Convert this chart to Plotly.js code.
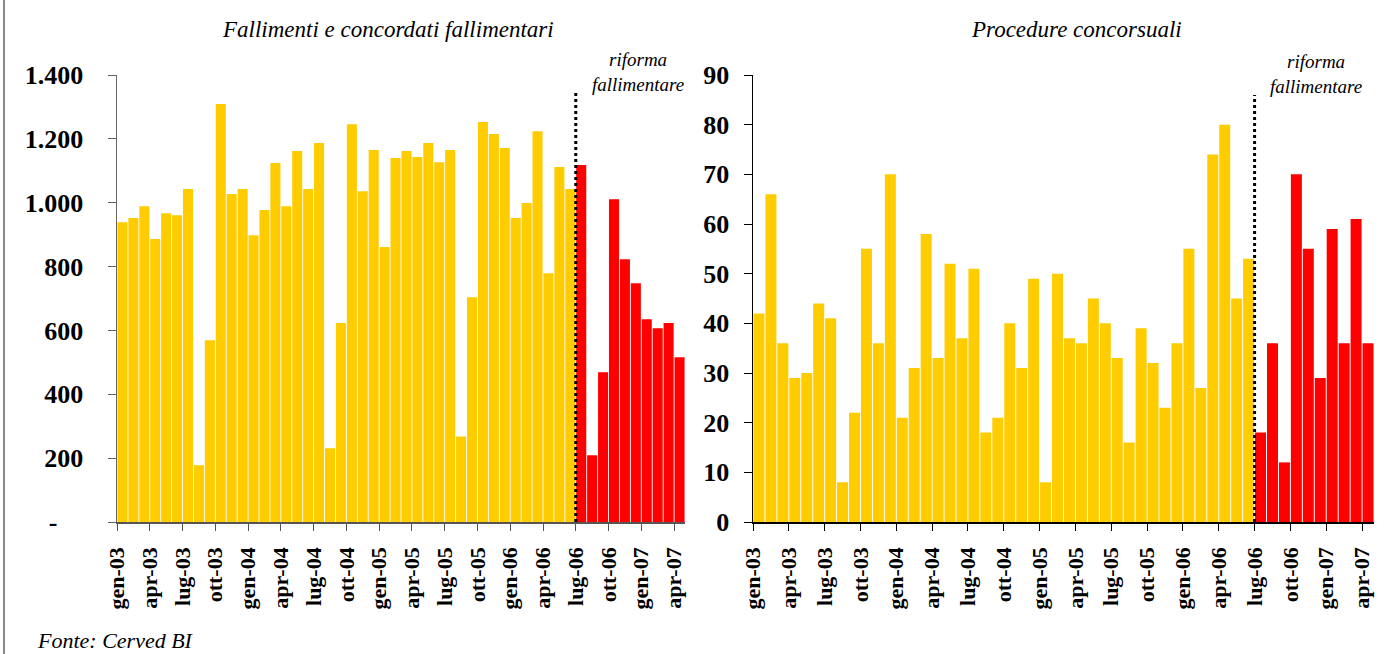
<!DOCTYPE html>
<html>
<head>
<meta charset="utf-8">
<script src="https://cdn.plot.ly/plotly-3.0.1.min.js"></script>
<style>
  html, body { margin: 0; padding: 0; background: #fff; }
  #grafico { width: 1386px; height: 654px; }
</style>
</head>
<body>
<div id="grafico"></div>
<script>
/* global Plotly */

// mesi da gen-03 a apr-07
var mesi = ["gen-03","feb-03","mar-03","apr-03","mag-03","giu-03","lug-03","ago-03","set-03","ott-03","nov-03","dic-03",
            "gen-04","feb-04","mar-04","apr-04","mag-04","giu-04","lug-04","ago-04","set-04","ott-04","nov-04","dic-04",
            "gen-05","feb-05","mar-05","apr-05","mag-05","giu-05","lug-05","ago-05","set-05","ott-05","nov-05","dic-05",
            "gen-06","feb-06","mar-06","apr-06","mag-06","giu-06","lug-06","ago-06","set-06","ott-06","nov-06","dic-06",
            "gen-07","feb-07","mar-07","apr-07"];

// indice del primo mese dopo la riforma (lug-06)
var riforma = 42;

var fallimenti = [939, 952, 989, 886, 967, 961, 1043, 178, 569, 1309, 1027, 1043,
                  898, 977, 1124, 989, 1162, 1043, 1187, 231, 623, 1246, 1036, 1165,
                  861, 1140, 1162, 1143, 1187, 1127, 1165, 268, 704, 1253, 1215, 1171,
                  952, 999, 1224, 779, 1112, 1043, 1118, 209, 469, 1011, 823, 748,
                  635, 607, 623, 516];

var procedure = [42, 66, 36, 29, 30, 44, 41, 8, 22, 55, 36, 70,
                 21, 31, 58, 33, 52, 37, 51, 18, 21, 40, 31, 49,
                 8, 50, 37, 36, 45, 40, 33, 16, 39, 32, 23, 36,
                 55, 27, 74, 80, 45, 53, 18, 36, 12, 70, 55, 29,
                 59, 36, 61, 36];

var tickFall = [0, 200, 400, 600, 800, 1000, 1200, 1400];
var tickProc = [0, 10, 20, 30, 40, 50, 60, 70, 80, 90];

// formato contabile: migliaia col punto, zero come trattino
function formattaFall(v) {
    if (v === 0) return "-\u00a0\u00a0\u00a0\u00a0";
    return String(v).replace(/\B(?=(\d{3})+(?!\d))/g, ".");
}
function formattaProc(v) {
    return String(v);
}

var posizioni = [];
var colori = [];
var tickX = [];
var tickXtesto = [];
for (var i = 0; i < mesi.length; i++) {
    posizioni[i] = i + 0.5;
    colori[i] = i < riforma ? "#FFCC00" : "#FF0000";
    if (i % 3 === 0) {
        tickX.push(i);
        tickXtesto.push(mesi[i]);
    }
}

var W = 1386, H = 654;
function px(x) { return x / W; }
function py(y) { return 1 - y / H; }

var serif = "Liberation Serif, Times New Roman, serif";
var fontAsse = {family: serif, size: 26, color: "#000", weight: "bold"};
var fontMesi = {family: serif, size: 22, color: "#000", weight: "bold"};
var fontTitolo = {family: serif, size: 23, color: "#000", style: "italic"};
var fontFonte = {family: serif, size: 22, color: "#000", style: "italic"};
var fontNota = {family: serif, size: 19, color: "#000", style: "italic"};

var dati = [{
    x: posizioni,
    y: fallimenti,
    type: "bar",
    marker: {color: colori, line: {width: 0}},
    hoverinfo: "skip",
    xaxis: "x",
    yaxis: "y"
}, {
    x: posizioni,
    y: procedure,
    type: "bar",
    marker: {color: colori, line: {width: 0}},
    hoverinfo: "skip",
    xaxis: "x2",
    yaxis: "y2"
}];

function assex(dominio, colore, ancora) {
    return {
        domain: dominio,
        anchor: ancora,
        range: [0, mesi.length],
        tickmode: "array",
        tickvals: tickX,
        ticktext: tickXtesto,
        tickangle: -90,
        ticks: "outside",
        ticklen: 7,
        tickcolor: colore,
        ticklabelstandoff: 8,
        showline: true,
        linecolor: colore,
        linewidth: 1.5,
        showgrid: false,
        zeroline: false,
        tickfont: fontMesi,
        fixedrange: true
    };
}

function assey(dominio, range, valori, testi, colore, standoff, ancora) {
    return {
        domain: dominio,
        anchor: ancora,
        range: range,
        tickmode: "array",
        tickvals: valori,
        ticktext: testi,
        ticks: "outside",
        ticklen: 8,
        tickcolor: colore,
        ticklabelstandoff: standoff,
        showline: true,
        linecolor: colore,
        linewidth: 1.5,
        showgrid: false,
        zeroline: false,
        tickfont: fontAsse,
        fixedrange: true
    };
}

var estilo = {
    width: W,
    height: H,
    margin: {l: 0, r: 0, t: 0, b: 0},
    paper_bgcolor: "#fff",
    plot_bgcolor: "#fff",
    showlegend: false,
    bargap: 0.08,
    xaxis: assex([px(117), px(685)], "#555", "y"),
    yaxis: assey([py(522), py(75)], [0, 1400], tickFall, tickFall.map(formattaFall), "#666", 19, "x"),
    xaxis2: assex([px(753), px(1374)], "#000", "y2"),
    yaxis2: assey([py(522), py(75)], [0, 90], tickProc, tickProc.map(formattaProc), "#000", 9, "x2"),
    shapes: [{
        type: "line", xref: "x", yref: "paper",
        x0: riforma, x1: riforma, y0: py(522), y1: py(93),
        line: {color: "#000", width: 3, dash: "dot"}
    }, {
        type: "line", xref: "x2", yref: "paper",
        x0: riforma, x1: riforma, y0: py(522), y1: py(95),
        line: {color: "#000", width: 3, dash: "dot"}
    }, {
        type: "line", xref: "paper", yref: "paper",
        x0: px(4), x1: px(4), y0: 0, y1: 1,
        line: {color: "#888", width: 2}
    }],
    annotations: [{
        text: "Fallimenti e concordati fallimentari",
        xref: "paper", yref: "paper", x: px(388), y: py(30),
        xanchor: "center", yanchor: "middle", showarrow: false, font: fontTitolo
    }, {
        text: "Procedure concorsuali",
        xref: "paper", yref: "paper", x: px(1076), y: py(30),
        xanchor: "center", yanchor: "middle", showarrow: false, font: fontTitolo
    }, {
        text: "riforma<br>fallimentare",
        xref: "paper", yref: "paper", x: px(638), y: py(72),
        xanchor: "center", yanchor: "middle", showarrow: false, font: fontNota
    }, {
        text: "riforma<br>fallimentare",
        xref: "paper", yref: "paper", x: px(1316), y: py(74),
        xanchor: "center", yanchor: "middle", showarrow: false, font: fontNota
    }, {
        text: "Fonte: Cerved BI",
        xref: "paper", yref: "paper", x: px(35), y: py(640),
        xanchor: "left", yanchor: "middle", showarrow: false, font: fontFonte
    }]
};

Plotly.newPlot("grafico", dati, estilo, {staticPlot: true, displayModeBar: false});
</script>
</body>
</html>
